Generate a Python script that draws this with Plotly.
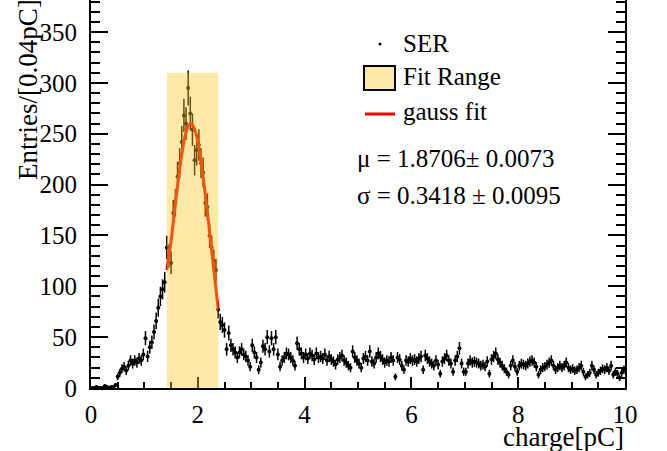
import math
import plotly.graph_objects as go

# ---------------- data ----------------
bin_width = 0.04
counts = [
    0, 0, 1, 0, 0, 0, 2, 1, 0, 1,            # 0.02 - 0.38
    1, 3, 11, 15, 19, 21, 17, 22, 27, 24,    # 0.42 - 0.78
    27, 25, 29, 27, 33, 49, 31, 40, 45, 55,  # 0.82 - 1.18
    66, 79, 90, 97, 104, 138, 130, 123, 172, 182,   # 1.22 - 1.58
    208, 221, 242, 268, 260, 295, 270, 254, 224, 234,  # 1.62 - 1.98
    239, 221, 212, 182, 178, 150, 138, 125, 116, 77,   # 2.02 - 2.38
    65, 62, 57, 38, 54, 42, 38, 35, 30, 35,  # 2.42 - 2.78
    38, 33, 31, 27, 21, 42, 35, 30, 18, 25,  # 2.82 - 3.18
    41, 38, 50, 36, 49, 38, 50, 33, 21, 27,  # 3.22 - 3.58
    30, 34, 33, 30, 27, 22, 44, 38, 34, 30,  # 3.62 - 3.98
    33, 29, 34, 32, 28, 34, 30, 31, 29, 33,  # 4.02 - 4.38
    27, 31, 28, 26, 23, 28, 30, 32, 27, 25,  # 4.42 - 4.78
    22, 20, 36, 30, 27, 24, 20, 29, 31, 27,  # 4.82 - 5.18
    36, 26, 24, 30, 34, 31, 28, 25, 27, 26,  # 5.22 - 5.58
    30, 27, 11, 30, 28, 22, 18, 27, 26, 29,  # 5.62 - 5.98
    27, 28, 26, 29, 31, 18, 32, 29, 26, 24,  # 6.02 - 6.38
    22, 27, 23, 14, 26, 29, 32, 27, 24, 16,  # 6.42 - 6.78
    27, 31, 39, 24, 16, 16, 24, 27, 25, 26,  # 6.82 - 7.18
    25, 24, 22, 23, 21, 26, 14, 28, 31, 34,  # 7.22 - 7.58
    28, 25, 22, 19, 16, 13, 22, 27, 21, 16,  # 7.62 - 7.98
    22, 24, 23, 22, 24, 26, 27, 25, 21, 13,  # 8.02 - 8.38
    18, 20, 21, 23, 25, 27, 22, 18, 20, 22,  # 8.42 - 8.78
    20, 22, 25, 20, 18, 19, 17, 18, 20, 22,  # 8.82 - 9.18
    16, 11, 13, 15, 22, 18, 13, 15, 17, 19,  # 9.22 - 9.58
    18, 20, 17, 22, 13, 16, 14, 10, 15, 18,  # 9.62 - 9.98
]
bin_centers = [round(bin_width / 2 + bin_width * i, 2) for i in range(len(counts))]
count_errors = [math.sqrt(c) for c in counts]

fit_x = [1.42, 1.50, 1.60, 1.70, 1.80, 1.87, 1.95, 2.05, 2.15, 2.25, 2.38]
fit_y = [116, 145, 190, 230, 255, 260, 253, 226, 186, 140, 78]

fit_range = [1.42, 2.38]
fit_range_top = 310

x_ticks = [0, 2, 4, 6, 8, 10]
y_ticks = [0, 50, 100, 150, 200, 250, 300, 350]

legend_labels = ["SER", "Fit Range", "gauss fit"]
fit_text = ["\u03bc = 1.8706\u00b1 0.0073", "\u03c3 = 0.3418 \u00b1 0.0095"]

# ---------------- figure ----------------
W, H = 667, 451
L, R, T, B = 91, 42, 0, 63
PW, PH = W - L - R, H - T - B
FONT = "Liberation Serif, Times New Roman, Times, serif"
FS = 25
FS_TITLE = 27


def px(xp):
    return (xp - L) / PW


def py(yp):
    return (T + PH - yp) / PH


fig = go.Figure()

fig.add_trace(go.Scatter(
    x=bin_centers, y=counts, mode="markers",
    marker=dict(color="black", size=4),
    error_y=dict(type="data", array=count_errors, color="black", thickness=1.5, width=0),
    error_x=dict(type="constant", value=bin_width / 2, color="black", thickness=1.5, width=0),
    showlegend=False, hoverinfo="skip",
))

fig.add_trace(go.Scatter(
    x=fit_x, y=fit_y, mode="lines", line=dict(color="red", width=3, shape="spline"),
    showlegend=False, hoverinfo="skip",
))

shapes = [
    dict(type="rect", xref="x", yref="y", x0=fit_range[0], x1=fit_range[1], y0=0, y1=fit_range_top,
         fillcolor="rgba(250,202,32,0.4)", line=dict(width=0), layer="above"),
    # legend swatches
    dict(type="circle", xref="paper", yref="paper", x0=px(378.5), x1=px(381.5), y0=py(45.5), y1=py(42.5),
         fillcolor="black", line=dict(width=0)),
    dict(type="rect", xref="paper", yref="paper", x0=px(364), x1=px(395), y0=py(90), y1=py(66),
         fillcolor="rgb(253,234,166)", line=dict(color="black", width=2)),
    dict(type="line", xref="paper", yref="paper", x0=px(365), x1=px(395), y0=py(114), y1=py(114),
         line=dict(color="red", width=3)),
]

annotations = [
    dict(text=legend_labels[0], x=px(401), y=py(43), xanchor="left", yanchor="middle"),
    dict(text=legend_labels[1], x=px(401), y=py(77), xanchor="left", yanchor="middle"),
    dict(text=legend_labels[2], x=px(401), y=py(112), xanchor="left", yanchor="middle"),
    dict(text=fit_text[0], x=px(355), y=py(158), xanchor="left", yanchor="middle"),
    dict(text=fit_text[1], x=px(355), y=py(195), xanchor="left", yanchor="middle"),
]
for a in annotations:
    a.update(xref="paper", yref="paper", showarrow=False, font=dict(family=FONT, size=FS, color="black"))

titles = [
    dict(text="charge[pC]", x=px(626), y=py(437), xanchor="right", yanchor="middle"),
    dict(text="Entries/[0.04pC]", x=px(28), y=py(90), xanchor="center", yanchor="middle", textangle=-90),
]
for a in titles:
    a.update(xref="paper", yref="paper", showarrow=False, font=dict(family=FONT, size=FS_TITLE, color="black"))

fig.update_layout(
    width=W, height=H,
    margin=dict(l=L, r=R, t=T, b=B, pad=0),
    paper_bgcolor="white", plot_bgcolor="white",
    font=dict(family=FONT, size=FS, color="black"),
    shapes=shapes, annotations=annotations + titles,
    showlegend=False,
)

fig.update_xaxes(
    range=[0, 10], tickvals=x_ticks, ticktext=[str(v) for v in x_ticks],
    ticks="inside", ticklen=11, tickwidth=2, tickcolor="black",
    minor=dict(dtick=0.5, ticks="inside", ticklen=6, tickwidth=2, tickcolor="black"),
    showline=True, linewidth=2, linecolor="black", mirror=False,
    showgrid=False, zeroline=False, tickfont=dict(family=FONT, size=FS),
    ticklabelstandoff=3,
)
fig.update_yaxes(
    range=[0, 381.5], tickvals=y_ticks, ticktext=[str(v) for v in y_ticks],
    ticks="inside", ticklen=17, tickwidth=2, tickcolor="black",
    minor=dict(dtick=10, ticks="inside", ticklen=9, tickwidth=2, tickcolor="black"),
    showline=True, linewidth=2, linecolor="black", mirror="ticks",
    showgrid=False, zeroline=False, tickfont=dict(family=FONT, size=FS),
    ticklabelstandoff=7,
)

fig.write_html("out.html", config={"displayModeBar": False},
               post_script="document.body.style.margin='0px';")
